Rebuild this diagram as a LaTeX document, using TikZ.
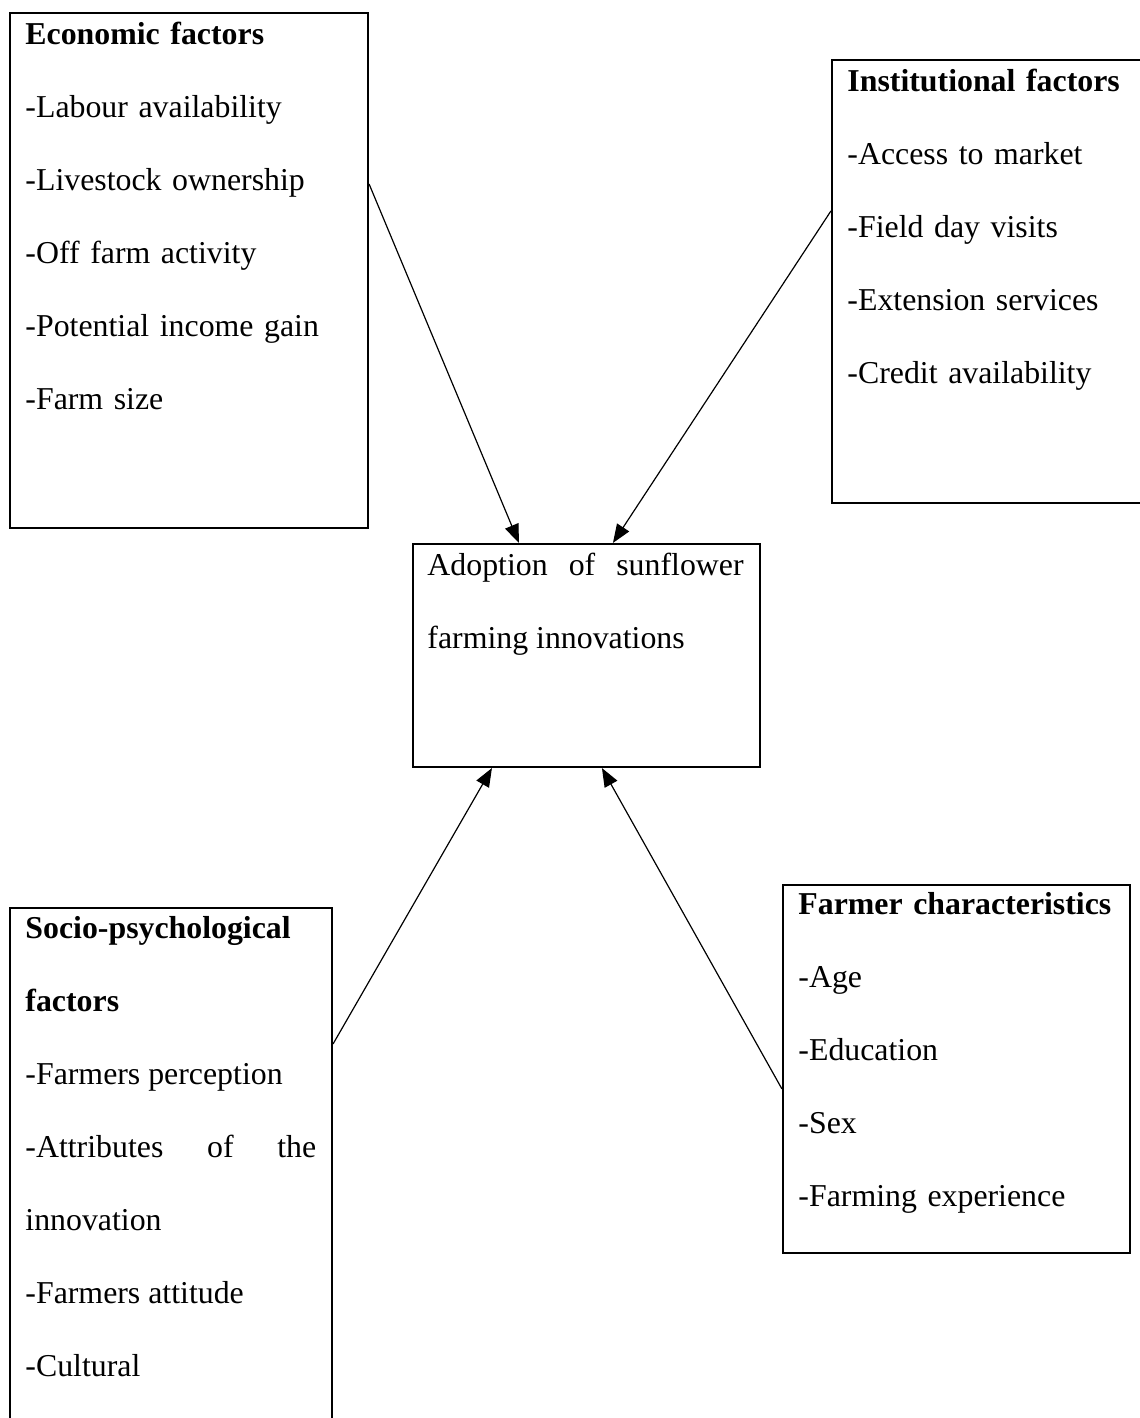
\documentclass[tikz,border=0pt]{standalone}
\usepackage{fontspec}
\setmainfont{Liberation Serif}
\usetikzlibrary{positioning, calc, fit, arrows.meta}
\hyphenpenalty=10000
\exhyphenpenalty=10000
\tikzset{
    factorbox/.style={
        draw=black,
        line width=0.8pt,
        inner sep=0pt
    },
    boxtext/.style={
        anchor=base west,
        inner sep=0pt,
        align=left,
        font=\fontsize{12}{27.5}\selectfont
    },
    justtext/.style={
        boxtext,
        align=justify
    },
    flow/.style={
        -{Triangle[length=7pt, width=5.4pt]},
        line width=0.45pt
    }
}

\begin{document}
\begin{tikzpicture}[x=0.377pt, y=-0.377pt]
  \useasboundingbox (0,0) rectangle (1140,1418);
  \clip (0,0) rectangle (1140,1418);

  % Factor boxes
  \node[factorbox, fit={(10,13) (368,528)}] (econ) {};
  \node[factorbox, fit={(832,60) (1160,503)}] (inst) {};
  \node[factorbox, fit={(413,544) (760,767)}] (adopt) {};
  \node[factorbox, fit={(10,908) (332,1440)}] (socio) {};
  \node[factorbox, fit={(783,885) (1130,1253)}] (farmer) {};

  % Texts
  \node[boxtext, text width=124pt] (econ-text) at ($(econ.north west)+(16,32.5)$)
    {\textbf{Economic factors}\\ -Labour availability\\ -Livestock ownership\\ -Off farm activity\\ -Potential income gain\\ -Farm size};
  \node[boxtext, text width=109pt] (inst-text) at ($(inst.north west)+(16,33)$)
    {\textbf{Institutional factors}\\ -Access to market\\ -Field day visits\\ -Extension services\\ -Credit availability};
  \node[justtext, text width=119.2pt] (adopt-text) at ($(adopt.north west)+(15,32.5)$)
    {Adoption of sunflower farming innovations};
  \node[justtext, text width=109.6pt] (socio-text) at ($(socio.north west)+(16,32)$)
    {\textbf{Socio-psychological}\\ \textbf{factors}\\ -Farmers perception\\ -Attributes of the innovation\\ -Farmers attitude\\ -Cultural};
  \node[boxtext, text width=121pt] (farmer-text) at ($(farmer.north west)+(16,31)$)
    {\textbf{Farmer characteristics}\\ -Age\\ -Education\\ -Sex\\ -Farming experience};

  % Arrows into the adoption box
  \draw[flow] ($(econ.north east)+(0,172)$) -- ($(adopt.north west)+(107,0)$);
  \draw[flow] ($(inst.north west)+(0,152)$) -- ($(adopt.north west)+(201,0)$);
  \draw[flow] ($(socio.north east)+(0,137)$) -- ($(adopt.south west)+(80,0)$);
  \draw[flow] ($(farmer.north west)+(0,205)$) -- ($(adopt.south west)+(190,0)$);
\end{tikzpicture}
\end{document}
